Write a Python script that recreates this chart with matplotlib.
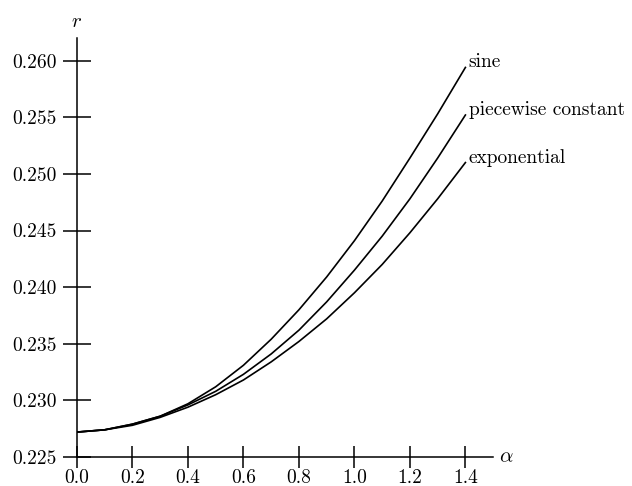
import matplotlib
matplotlib.use("Agg")
import matplotlib.pyplot as plt
from matplotlib.ticker import FormatStrFormatter

plt.rcParams["font.family"] = "serif"
plt.rcParams["font.serif"] = ["cmr10"]
plt.rcParams["mathtext.fontset"] = "cm"
plt.rcParams["axes.unicode_minus"] = False
plt.rcParams["axes.formatter.use_mathtext"] = True

# values
alpha = [0.0, 0.1, 0.2, 0.3, 0.4, 0.5, 0.6, 0.7, 0.8, 0.9, 1.0, 1.1, 1.2, 1.3, 1.4]
r_sine = [0.2272, 0.2274, 0.2279, 0.2286, 0.2297, 0.2312, 0.2331, 0.2354,
          0.2380, 0.2409, 0.2441, 0.2476, 0.2514, 0.2553, 0.2594]
r_piecewise = [0.2272, 0.2274, 0.2279, 0.2286, 0.2296, 0.2308, 0.2323, 0.2341,
               0.2362, 0.2387, 0.2415, 0.2445, 0.2478, 0.2514, 0.2552]
r_exp = [0.2272, 0.2274, 0.2278, 0.2285, 0.2294, 0.2305, 0.2318, 0.2334,
         0.2352, 0.2372, 0.2395, 0.2420, 0.2448, 0.2478, 0.2510]
labels = ["sine", "piecewise constant", "exponential"]

xticks = [0.0, 0.2, 0.4, 0.6, 0.8, 1.0, 1.2, 1.4]
yticks = [0.225, 0.230, 0.235, 0.240, 0.245, 0.250, 0.255, 0.260]

fig = plt.figure(figsize=(6.32, 4.86), dpi=100)
ax = fig.add_axes([0.1218, 0.0597, 0.6585, 0.8621])

for ys, lab in zip([r_sine, r_piecewise, r_exp], labels):
    ax.plot(alpha, ys, color="black", lw=1.2)
    ax.text(alpha[-1] + 0.012, ys[-1], lab, fontsize=14, ha="left", va="baseline")

ax.set_xlim(0, 1.5)
ax.set_ylim(0.225, 0.262)
ax.set_xticks(xticks)
ax.set_yticks(yticks)
ax.xaxis.set_major_formatter(FormatStrFormatter("%.1f"))
ax.yaxis.set_major_formatter(FormatStrFormatter("%.3f"))

ax.spines["top"].set_visible(False)
ax.spines["right"].set_visible(False)
for s in ["left", "bottom"]:
    ax.spines[s].set_linewidth(1.1)
ax.tick_params(axis="y", direction="inout", length=19.5, width=1.1, labelsize=14, pad=5)
ax.tick_params(axis="x", direction="inout", length=16, width=1.1, labelsize=14, pad=0.5)

ax.text(1.52, 0.225, r"$\alpha$", fontsize=15, ha="left", va="center")
ax.text(0.0, 0.2634, r"$r$", fontsize=15, ha="center", va="center")

fig.savefig("out.png", dpi=100)
